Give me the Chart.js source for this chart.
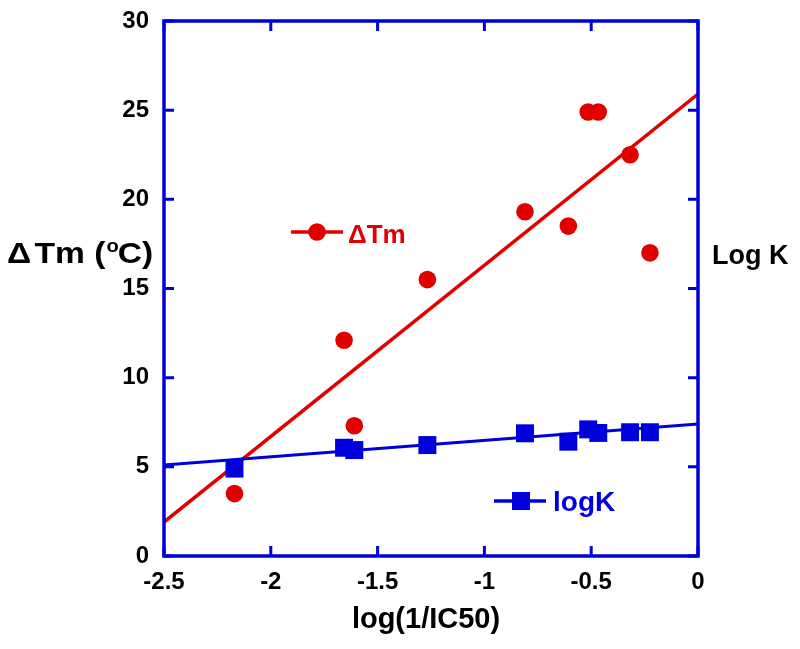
<!DOCTYPE html>
<html>
<head>
<meta charset="utf-8">
<script src="https://cdn.jsdelivr.net/npm/chart.js@4"></script>
<style>
  html, body { margin: 0; padding: 0; background: #ffffff; }
  #wrap { width: 800px; height: 649px; position: relative; }
</style>
</head>
<body>
<div id="wrap"><canvas id="c" width="800" height="649"></canvas></div>
<script>
// ---- data ----
const xValues   = [-2.17, -1.657, -1.609, -1.267, -0.81, -0.607, -0.514, -0.467, -0.318, -0.225];
const dTmValues = [3.5, 12.1, 7.3, 15.5, 19.3, 18.5, 24.9, 24.9, 22.5, 17.0];
const logKValues = [4.9, 6.07, 5.94, 6.22, 6.88, 6.41, 7.1, 6.9, 6.94, 6.94];
// fitted lines: endpoint values at x = -2.5 and x = 0
const fitX = [-2.5, 0];
const dTmFit = [1.9, 25.9];
const logKFit = [5.1, 7.4];
// axes
const xMin = -2.5, xMax = 0, xStep = 0.5;
const yMin = 0, yMax = 30, yStep = 5;
const xTickLabels = ['-2.5', '-2', '-1.5', '-1', '-0.5', '0'];
const yTickLabels = ['0', '5', '10', '15', '20', '25', '30'];
const xTitle = 'log(1/IC50)';
const yTitleParts = ['\u0394', 'Tm (', 'o', 'C)'];
const rightTitle = 'Log K';
const legendLabels = ['\u0394Tm', 'logK'];

const RED = '#e00000';
const BLUE = '#0000dd';
const FONT = '"Liberation Sans", Arial, Helvetica, sans-serif';

const toPts = (xs, ys) => xs.map((x, i) => ({ x: x, y: ys[i] }));

const decor = {
  id: 'decor',
  afterDraw(chart) {
    const ctx = chart.ctx;
    const a = chart.chartArea;
    const xs = chart.scales.x, ys = chart.scales.y;
    ctx.save();
    // frame
    ctx.strokeStyle = BLUE;
    ctx.lineWidth = 3.5;
    ctx.strokeRect(a.left, a.top, a.right - a.left, a.bottom - a.top);
    // inward ticks
    ctx.lineWidth = 3;
    const tl = 10;
    xs.ticks.forEach(t => {
      const px = xs.getPixelForValue(t.value);
      ctx.beginPath();
      ctx.moveTo(px, a.bottom); ctx.lineTo(px, a.bottom - tl);
      ctx.moveTo(px, a.top); ctx.lineTo(px, a.top + tl);
      ctx.stroke();
    });
    ys.ticks.forEach(t => {
      const py = ys.getPixelForValue(t.value);
      ctx.beginPath();
      ctx.moveTo(a.left, py); ctx.lineTo(a.left + tl, py);
      ctx.moveTo(a.right, py); ctx.lineTo(a.right - tl, py);
      ctx.stroke();
    });

    // y title (left) with superscript, slightly widened like the reference
    ctx.fillStyle = '#000';
    ctx.textBaseline = 'alphabetic';
    ctx.textAlign = 'left';
    const ty = a.top + 242;
    ctx.save();
    ctx.translate(7, ty);
    ctx.scale(1.12, 1);
    let tx = 0;
    ctx.font = 'bold 30px ' + FONT;
    ctx.fillText(yTitleParts[0], tx, 0);
    tx += ctx.measureText(yTitleParts[0]).width + 3;
    ctx.fillText(yTitleParts[1], tx, 0);
    tx += ctx.measureText(yTitleParts[1]).width + 1;
    ctx.font = 'bold 18px ' + FONT;
    ctx.fillText(yTitleParts[2], tx, -11);
    tx += ctx.measureText(yTitleParts[2]).width - 1;
    ctx.font = 'bold 30px ' + FONT;
    ctx.fillText(yTitleParts[3], tx, 0);
    ctx.restore();

    // right title
    ctx.font = 'bold 27px ' + FONT;
    ctx.fillText(rightTitle, a.right + 14, a.top + 243);

    // x title
    ctx.textAlign = 'center';
    ctx.font = 'bold 29px ' + FONT;
    ctx.fillText(xTitle, (a.left + a.right) / 2 - 5, a.bottom + 72);

    // in-plot legend: Delta Tm
    ctx.textAlign = 'left';
    let lx = a.left + 127, ly = a.top + 211;
    ctx.strokeStyle = RED; ctx.fillStyle = RED; ctx.lineWidth = 3.5;
    ctx.beginPath(); ctx.moveTo(lx, ly); ctx.lineTo(lx + 52, ly); ctx.stroke();
    ctx.beginPath(); ctx.arc(lx + 26, ly, 8.8, 0, Math.PI * 2); ctx.fill();
    ctx.font = 'bold 26px ' + FONT;
    ctx.textBaseline = 'middle';
    ctx.fillText(legendLabels[0], lx + 57, ly + 4);

    // in-plot legend: logK
    lx = a.left + 330; ly = a.top + 480;
    ctx.strokeStyle = BLUE; ctx.fillStyle = BLUE;
    ctx.beginPath(); ctx.moveTo(lx, ly); ctx.lineTo(lx + 52, ly); ctx.stroke();
    ctx.fillRect(lx + 27 - 9, ly - 9, 18, 18);
    ctx.font = 'bold 28px ' + FONT;
    ctx.textBaseline = 'alphabetic';
    ctx.fillText(legendLabels[1], lx + 59, ly + 10);
    ctx.restore();
  }
};

new Chart(document.getElementById('c'), {
  type: 'scatter',
  data: {
    datasets: [
      { label: 'dTm fit', type: 'line', data: toPts(fitX, dTmFit), borderColor: RED, borderWidth: 3.5,
        pointRadius: 0, fill: false, order: 4 },
      { label: 'logK fit', type: 'line', data: toPts(fitX, logKFit), borderColor: BLUE, borderWidth: 3,
        pointRadius: 0, fill: false, order: 3 },
      { label: legendLabels[0], data: toPts(xValues, dTmValues), pointStyle: 'circle', pointRadius: 8.8,
        backgroundColor: RED, borderColor: RED, borderWidth: 0, order: 2 },
      { label: legendLabels[1], data: toPts(xValues, logKValues), pointStyle: 'rect', pointRadius: 12.7,
        backgroundColor: BLUE, borderColor: BLUE, borderWidth: 0, order: 1 }
    ]
  },
  options: {
    responsive: false,
    animation: false,
    devicePixelRatio: 1,
    layout: { padding: { left: 0, right: 102, top: 21, bottom: 0 } },
    plugins: { legend: { display: false }, tooltip: { enabled: false } },
    scales: {
      x: {
        type: 'linear', min: xMin, max: xMax,
        ticks: { stepSize: xStep, color: '#000', padding: 12, font: { family: FONT, size: 24, weight: 'bold' },
          callback: (v, i) => xTickLabels[i] },
        grid: { display: false, drawTicks: false },
        border: { display: false },
        afterFit(s) { s.height = 93; s.paddingLeft = 0; s.paddingRight = 0; }
      },
      y: {
        type: 'linear', min: yMin, max: yMax,
        ticks: { stepSize: yStep, color: '#000', padding: 15, font: { family: FONT, size: 24, weight: 'bold' },
          callback: (v, i) => yTickLabels[i] },
        grid: { display: false, drawTicks: false },
        border: { display: false },
        afterFit(s) { s.width = 164; s.paddingTop = 0; s.paddingBottom = 0; }
      }
    }
  },
  plugins: [decor]
});
</script>
</body>
</html>
